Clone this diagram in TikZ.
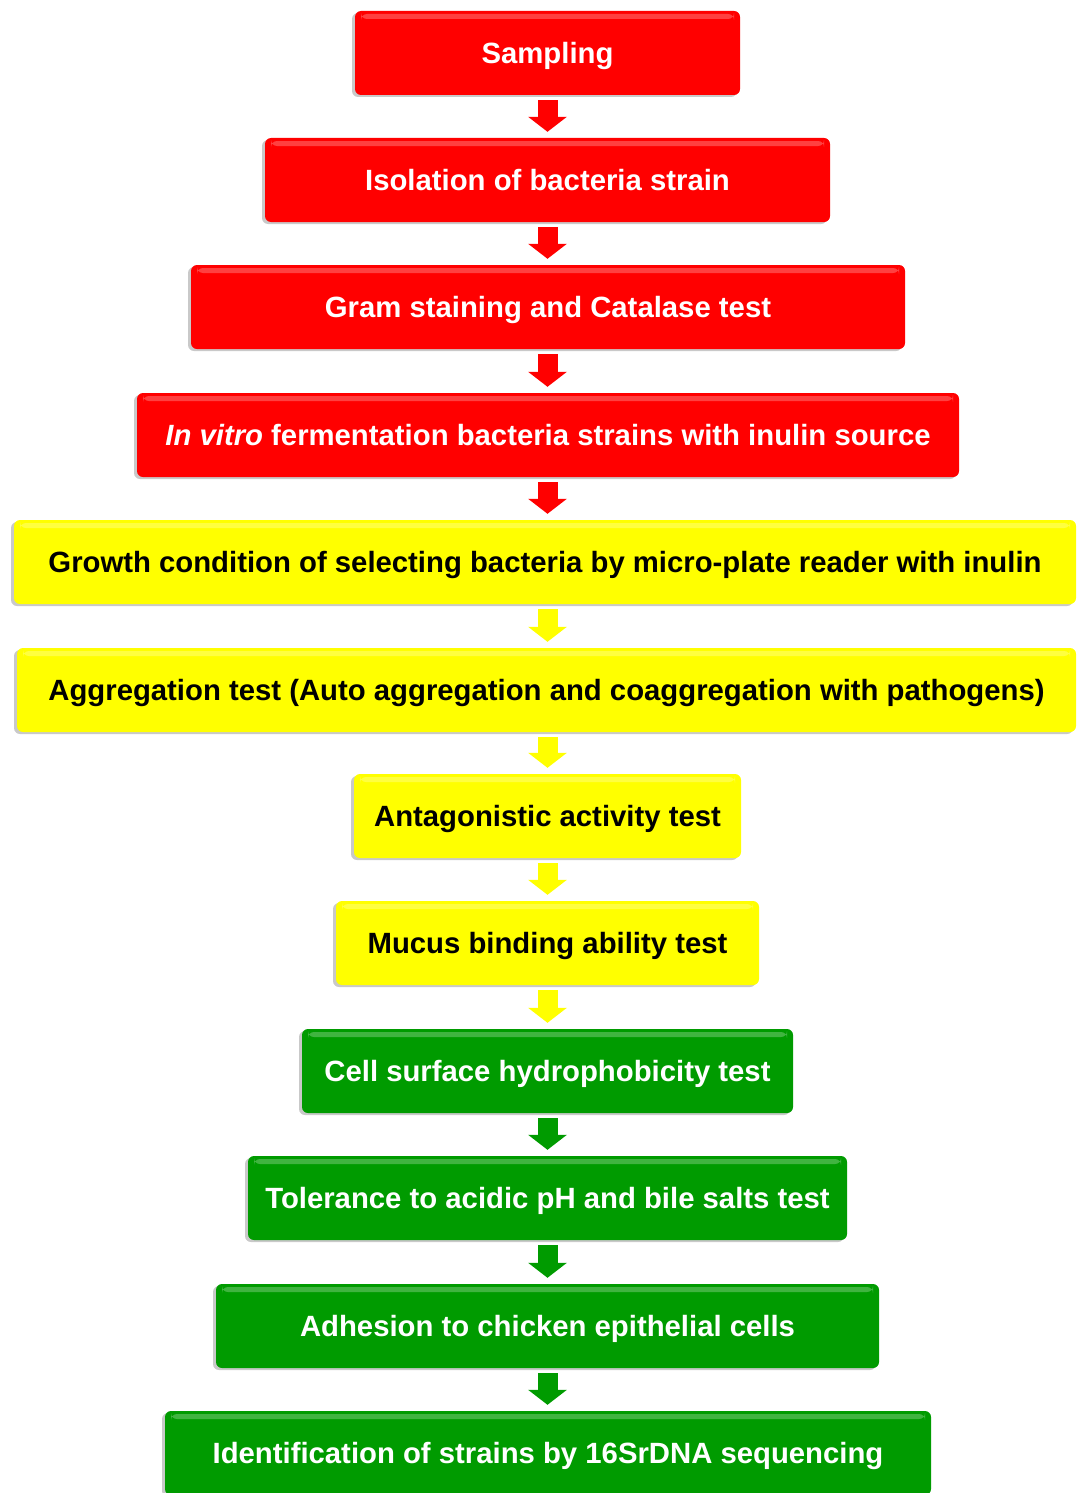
\documentclass[tikz,border=0pt]{standalone}
\usepackage{fontspec}
\setmainfont{Liberation Sans}
\usetikzlibrary{arrows.meta,shadows}
\definecolor{stepred}{RGB}{255,0,0}
\definecolor{stepyellow}{RGB}{255,255,0}
\definecolor{stepgreen}{RGB}{0,155,0}
\tikzset{
  stage/.style={rounded corners=6pt,inner sep=0pt,minimum height=84pt,
    font=\fontsize{29.3}{34}\selectfont\bfseries,text height=21pt,text depth=0pt,
    drop shadow={shadow xshift=-3pt,shadow yshift=-2pt,opacity=0.3,fill=black!70},
    path picture={\fill[white,opacity=0.25]
      ([xshift=6pt,yshift=-3pt]path picture bounding box.north west) rectangle
      ([xshift=-6pt,yshift=-8pt]path picture bounding box.north east);}},
  stepflow/.style={line width=20pt,-{Triangle[width=38pt,length=15pt]}}
}
\begin{document}
\begin{tikzpicture}[x=1pt,y=-1pt]
  \useasboundingbox (0,0) rectangle (1076,1493);
  \foreach [count=\i] \X/\Y/\W/\C/\Tc/\T in {
    547.5/53/385/stepred/white/{Sampling},
    547.5/180/565/stepred/white/{Isolation of bacteria strain},
    548/307/714/stepred/white/{Gram staining and Catalase test},
    548/435/822/stepred/white/{\textit{In vitro} fermentation bacteria strains with inulin source},
    545/562/1062/stepyellow/black/{Growth condition of selecting bacteria by micro-plate reader with inulin},
    546.5/690/1059/stepyellow/black/{Aggregation test (Auto aggregation and coaggregation with pathogens)},
    547.5/816/387/stepyellow/black/{Antagonistic activity test},
    547.5/943/423/stepyellow/black/{Mucus binding ability test},
    547.5/1071/491/stepgreen/white/{Cell surface hydrophobicity test},
    547.5/1198/599/stepgreen/white/{Tolerance to acidic pH and bile salts test},
    547.5/1326/663/stepgreen/white/{Adhesion to chicken epithelial cells},
    548/1453/766/stepgreen/white/{Identification of strains by 16SrDNA sequencing}}
  {\node[stage,fill=\C,text=\Tc,minimum width=\W pt] (B\i) at (\X,\Y) {\T};}
  % arrows take the colour of the box above, all on one vertical
  \foreach \i/\C in {1/stepred,2/stepred,3/stepred,4/stepred,5/stepyellow,6/stepyellow,
    7/stepyellow,8/stepyellow,9/stepgreen,10/stepgreen,11/stepgreen}
  {\pgfmathtruncatemacro{\j}{\i+1}
   \draw[stepflow,color=\C] ([yshift=-5pt]B1.south |- B\i.south) -- ([yshift=6pt]B1.south |- B\j.north);}
\end{tikzpicture}
\end{document}
